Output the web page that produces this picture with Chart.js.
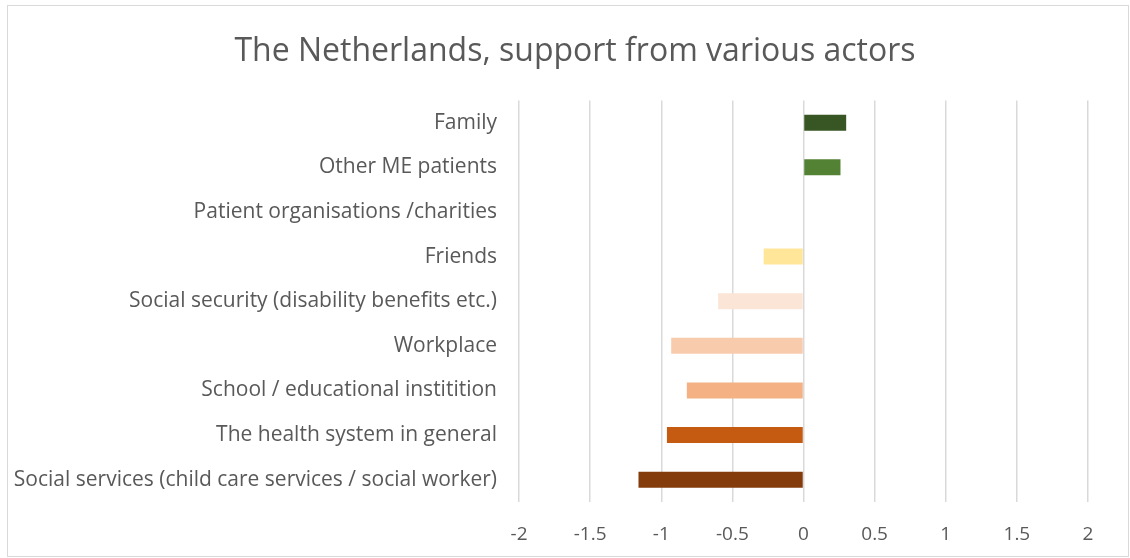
<!DOCTYPE html>
<html>
<head>
<meta charset="utf-8">
<script src="https://cdn.jsdelivr.net/npm/chart.js@4.4.1/dist/chart.umd.min.js"></script>
<style>
    html, body { margin: 0; padding: 0; background: #fff; }
    #frame { position: absolute; left: 7px; top: 5px; width: 1120px; height: 550px; border: 1px solid #d9d9d9; }
    #wrap { position: absolute; left: 0; top: 0; width: 1130px; height: 558px; }
</style>
</head>
<body>
<div id="frame"></div>
<div id="wrap"><canvas id="supportChart"></canvas></div>
<script>
const chartTitle = 'The Netherlands, support from various actors';

const categories = [
    'Family',
    'Other ME patients',
    'Patient organisations /charities',
    'Friends',
    'Social security (disability benefits etc.)',
    'Workplace',
    'School / educational institition',
    'The health system in general',
    'Social services (child care services / social worker)'
];

const supportScores = [0.30, 0.26, 0, -0.28, -0.60, -0.93, -0.82, -0.96, -1.16];

const barColors = ['#375623', '#548235', '#a9d18e', '#ffe699', '#fbe5d6', '#f8cbad', '#f4b183', '#c55a11', '#843c0c'];

const xTicks = [-2, -1.5, -1, -0.5, 0, 0.5, 1, 1.5, 2];

const textColor = '#595959';
const fontFamily = "'Open Sans', 'Noto Sans', sans-serif";

// centre the title like the original (slightly right of the page middle)
const centerTitle = {
    id: 'centerTitle',
    afterLayout(chart) {
        let tb = chart.titleBlock;
        if (tb) {
            tb.left = 20;
            tb.right = chart.width;
            tb.width = chart.width - 20;
        }
    }
};

let ctx = document.getElementById('supportChart');

new Chart(ctx, {
    type: 'bar',
    data: {
        labels: categories,
        datasets: [{
            data: supportScores,
            backgroundColor: barColors,
            borderWidth: 0,
            categoryPercentage: 1,
            barPercentage: 0.36
        }]
    },
    options: {
        indexAxis: 'y',
        responsive: true,
        maintainAspectRatio: false,
        animation: false,
        layout: {
            padding: {left: 0, right: 42, top: 0, bottom: 0}
        },
        scales: {
            x: {
                min: -2,
                max: 2,
                afterBuildTicks: (axis) => {
                    axis.ticks = xTicks.map(v => ({value: v}));
                },
                afterFit: (axis) => {
                    axis.height = 56;
                },
                grid: {
                    color: '#d9d9d9',
                    lineWidth: 1.5,
                    drawTicks: false
                },
                border: {display: false},
                ticks: {
                    color: textColor,
                    padding: 21,
                    font: {family: fontFamily, size: 19},
                    callback: (value) => String(value)
                }
            },
            y: {
                afterFit: (axis) => {
                    axis.width = 519;
                },
                grid: {display: false, drawTicks: false},
                border: {display: false},
                ticks: {
                    color: textColor,
                    padding: 22,
                    font: {family: fontFamily, size: 21}
                }
            }
        },
        plugins: {
            legend: {display: false},
            tooltip: {enabled: false},
            title: {
                display: true,
                text: chartTitle,
                color: textColor,
                font: {family: fontFamily, size: 32, weight: 'normal'},
                padding: {top: 33, bottom: 29}
            }
        }
    },
    plugins: [centerTitle]
});
</script>
</body>
</html>
